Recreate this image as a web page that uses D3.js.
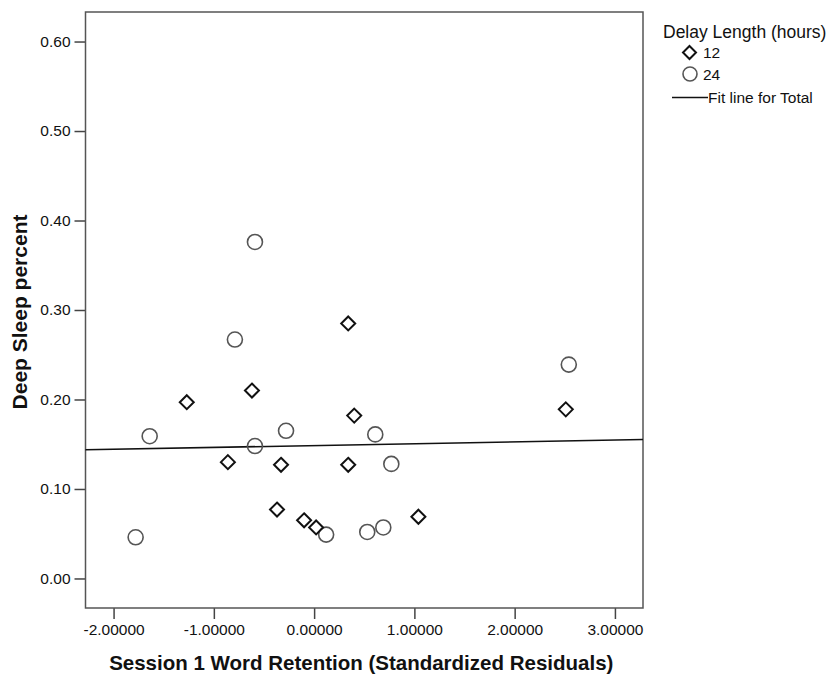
<!DOCTYPE html>
<html>
<head>
<meta charset="utf-8">
<script src="https://cdn.jsdelivr.net/npm/d3@7"></script>
<style>
    body { margin: 0; background: #fff; }
    text { font-family: Arial, 'Liberation Sans', sans-serif; fill: #111; }
</style>
</head>
<body>
<svg id="chart" width="830" height="675"></svg>
<script>

// 12 hour delay group (diamonds)
var delay12X = [-1.27, -0.86, -0.62, -0.33, -0.37, -0.10, 0.02, 0.34, 0.40, 0.34, 1.04, 2.51];
var delay12Y = [0.197, 0.130, 0.210, 0.127, 0.077, 0.065, 0.057, 0.285, 0.182, 0.127, 0.069, 0.189];

// 24 hour delay group (circles)
var delay24X = [-1.64, -1.78, -0.59, -0.79, -0.59, -0.28, 0.12, 0.53, 0.69, 0.61, 0.77, 2.54];
var delay24Y = [0.159, 0.046, 0.376, 0.267, 0.148, 0.165, 0.049, 0.052, 0.057, 0.161, 0.128, 0.239];

// fit line for total
var fitIntercept = 0.1485;
var fitSlope = 0.00207;

var xTicks = [-2, -1, 0, 1, 2, 3];
var yTicks = [0, 0.1, 0.2, 0.3, 0.4, 0.5, 0.6];
var legendLabels = ['12', '24'];

var frame = {'left': 85.5, 'top': 12, 'right': 643, 'bottom': 608};

var svg = d3.select('#chart');

var x = d3.scaleLinear().domain([-2.28, 3.28]).range([frame.left, frame.right]);
var y = d3.scaleLinear().domain([-0.033, 0.633]).range([frame.bottom, frame.top]);

function diamondPath(size) {
    return 'M0,' + (-size) + 'L' + size + ',0L0,' + size + 'L' + (-size) + ',0Z';
}

function fmt(spec) {
    var f = d3.format(spec);
    // plain hyphen for negatives, like the original output
    return function (d) { return f(d).replace('\u2212', '-'); };
}

function drawAxes() {
    var yAxis = d3.axisLeft(y).tickValues(yTicks).tickSize(11).tickPadding(4)
        .tickFormat(fmt('.2f'));
    var gy = svg.append('g')
        .attr('transform', 'translate(' + frame.left + ',0)')
        .call(yAxis);

    var xAxis = d3.axisBottom(x).tickValues(xTicks).tickSize(11).tickPadding(5)
        .tickFormat(fmt('.5f'));
    var gx = svg.append('g')
        .attr('transform', 'translate(0,' + frame.bottom + ')')
        .call(xAxis);

    [gy, gx].forEach(function (g) {
        g.select('.domain').remove();
        g.selectAll('line').attr('stroke', '#444').attr('stroke-width', 1.5);
        g.selectAll('text').style('font-size', '15.5px').attr('fill', '#111')
            .style('font-family', 'Arial, "Liberation Sans", sans-serif');
    });

    svg.append('rect')
        .attr('x', frame.left)
        .attr('y', frame.top)
        .attr('width', frame.right - frame.left)
        .attr('height', frame.bottom - frame.top)
        .attr('fill', 'none')
        .attr('stroke', '#555')
        .attr('stroke-width', 1.5);

    svg.append('text')
        .attr('transform', 'translate(27,' + ((frame.top + frame.bottom) / 2 + 2) + ') rotate(-90)')
        .attr('text-anchor', 'middle')
        .style('font-size', '21px')
        .style('font-weight', 'bold')
        .text('Deep Sleep percent');

    svg.append('text')
        .attr('x', (frame.left + frame.right) / 2 - 3)
        .attr('y', 670)
        .attr('text-anchor', 'middle')
        .style('font-size', '20.5px')
        .style('font-weight', 'bold')
        .text('Session 1 Word Retention (Standardized Residuals)');
}

function drawFitLine() {
    var xs = x.domain();
    svg.append('line')
        .attr('x1', x(xs[0]))
        .attr('y1', y(fitIntercept + fitSlope * xs[0]))
        .attr('x2', x(xs[1]))
        .attr('y2', y(fitIntercept + fitSlope * xs[1]))
        .attr('stroke', '#111')
        .attr('stroke-width', 1.6);
}

function drawPoints() {
    var circles = delay24X.map(function (d, i) { return [d, delay24Y[i]]; });
    var diamonds = delay12X.map(function (d, i) { return [d, delay12Y[i]]; });

    svg.append('g').selectAll('circle')
        .data(circles)
        .enter().append('circle')
        .attr('cx', function (d) { return x(d[0]); })
        .attr('cy', function (d) { return y(d[1]); })
        .attr('r', 7.5)
        .attr('fill', 'none')
        .attr('stroke', '#555')
        .attr('stroke-width', 1.6);

    svg.append('g').selectAll('path')
        .data(diamonds)
        .enter().append('path')
        .attr('d', diamondPath(7))
        .attr('transform', function (d) { return 'translate(' + x(d[0]) + ',' + y(d[1]) + ')'; })
        .attr('fill', 'none')
        .attr('stroke', '#111')
        .attr('stroke-width', 2);
}

function drawLegend() {
    var g = svg.append('g');

    g.append('text')
        .attr('x', 663)
        .attr('y', 38)
        .style('font-size', '17.5px')
        .text('Delay Length (hours)');

    g.append('path')
        .attr('d', diamondPath(6.5))
        .attr('transform', 'translate(689.5,52.5)')
        .attr('fill', 'none')
        .attr('stroke', '#111')
        .attr('stroke-width', 2);

    g.append('circle')
        .attr('cx', 690)
        .attr('cy', 74)
        .attr('r', 7)
        .attr('fill', 'none')
        .attr('stroke', '#555')
        .attr('stroke-width', 1.6);

    g.selectAll('.legendLabel')
        .data(legendLabels)
        .enter().append('text')
        .attr('class', 'legendLabel')
        .attr('x', 703)
        .attr('y', function (d, i) { return 58 + i * 21.5; })
        .style('font-size', '15.5px')
        .text(function (d) { return d; });

    g.append('line')
        .attr('x1', 672)
        .attr('x2', 708)
        .attr('y1', 97.5)
        .attr('y2', 97.5)
        .attr('stroke', '#111')
        .attr('stroke-width', 1.6);

    g.append('text')
        .attr('x', 708)
        .attr('y', 102.5)
        .style('font-size', '15.5px')
        .text('Fit line for Total');
}

drawAxes();
drawFitLine();
drawPoints();
drawLegend();

</script>
</body>
</html>
